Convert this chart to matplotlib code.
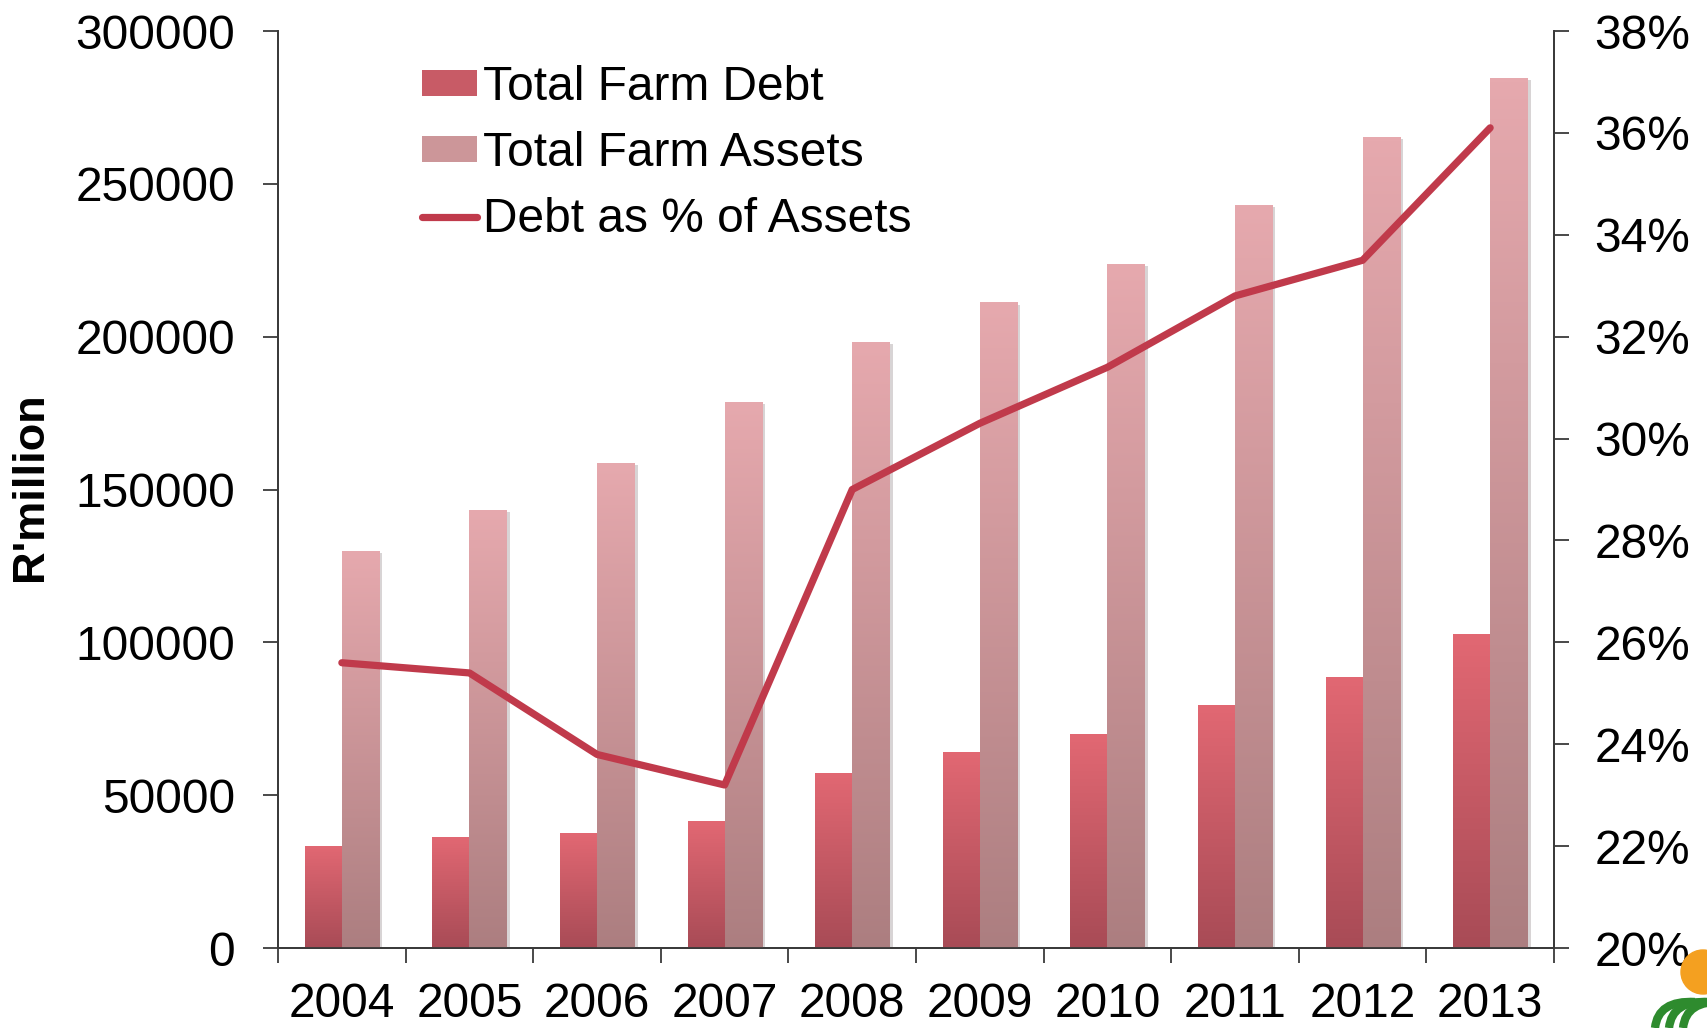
import matplotlib
matplotlib.use("Agg")
import matplotlib.pyplot as plt
import matplotlib.patheffects as pe
import numpy as np
from matplotlib.colors import LinearSegmentedColormap
from matplotlib.lines import Line2D
from matplotlib.patches import Patch, Circle, PathPatch
from matplotlib.path import Path
from matplotlib.ticker import PercentFormatter

# data (R million / share)
years = ["2004", "2005", "2006", "2007", "2008", "2009", "2010", "2011", "2012", "2013"]
farm_debt = [33500, 36400, 37500, 41400, 57400, 64200, 69900, 79600, 88800, 102700]
farm_assets = [129900, 143400, 158800, 178700, 198400, 211200, 223700, 243000, 265400, 284700]
debt_pct = [25.6, 25.4, 23.8, 23.2, 29.0, 30.3, 31.4, 32.8, 33.5, 36.1]

plt.rcParams['font.family'] = ['Liberation Sans', 'DejaVu Sans']
FS = 34.5
SPINE = '#3a3a3a'

debt_cmap = LinearSegmentedColormap.from_list('debt', ['#A84B56', '#E26873'])
asset_cmap = LinearSegmentedColormap.from_list('assets', ['#AC7E80', '#E6A9AE'])

fig = plt.figure(figsize=(17.08, 10.28), dpi=100)
ax = fig.add_axes([0.1628, 0.0778, 0.747, 0.892])
ax2 = ax.twinx()

x = np.arange(len(years))
w = 0.29


def gradient_bars(axis, xs, heights, cmap):
    bars = axis.bar(xs, heights, w, color=cmap(0.5), zorder=2,
                    path_effects=[pe.SimplePatchShadow(offset=(2.5, -1.5), alpha=0.2),
                                  pe.Normal()])
    grad = np.linspace(0, 1, 256).reshape(-1, 1)
    for b in bars:
        x0, y0 = b.get_x(), b.get_y()
        im = axis.imshow(grad, cmap=cmap, origin='lower', aspect='auto',
                         extent=[x0, x0 + b.get_width(), y0, y0 + b.get_height()],
                         zorder=3, interpolation='bilinear')
        im.set_clip_path(b)
    return bars


gradient_bars(ax, x - w / 2, farm_debt, debt_cmap)
gradient_bars(ax, x + w / 2, farm_assets, asset_cmap)

ax2.plot(x, np.array(debt_pct) / 100, color='#C03A4B', lw=5.2,
         solid_capstyle='round', solid_joinstyle='round', zorder=5)

ax.set_xlim(-0.5, len(years) - 0.5)
ax.set_ylim(0, 300000)
ax.set_yticks(np.arange(0, 300001, 50000))
ax2.set_ylim(0.20, 0.38)
ax2.set_yticks(np.arange(0.20, 0.3801, 0.02))
ax2.yaxis.set_major_formatter(PercentFormatter(1.0, decimals=0))

ax.set_xticks(x)
ax.set_xticklabels(years)
ax.set_xticks(np.arange(-0.5, len(years), 1), minor=True)
ax.tick_params(axis='x', which='major', length=0, labelsize=FS, pad=24.5)
ax.tick_params(axis='x', which='minor', direction='out', length=11, width=1.3, color=SPINE)
ax.tick_params(axis='y', direction='out', length=11, width=1.3, color=SPINE,
               labelsize=FS, pad=20)
ax2.tick_params(axis='y', direction='out', length=11, width=1.3, color=SPINE,
                labelsize=FS, pad=18)

for a in (ax, ax2):
    a.spines['top'].set_visible(False)
    for s in ('left', 'right', 'bottom'):
        a.spines[s].set_color(SPINE)
        a.spines[s].set_linewidth(1.3)

fig.text(31 / 1708, 0.527, "R'million", rotation=90, ha='center', va='center',
         fontsize=32.5, fontweight='bold')

handles = [Patch(facecolor=debt_cmap(0.55), edgecolor='none'),
           Patch(facecolor=asset_cmap(0.55), edgecolor='none'),
           Line2D([], [], color='#C03A4B', lw=5.2, solid_capstyle='round')]
labels = ['Total Farm Debt', 'Total Farm Assets', 'Debt as % of Assets']
ax2.legend(handles, labels, loc='upper left', bbox_to_anchor=(0.113, 0.963),
           frameon=False, fontsize=FS, handlelength=1.15, handleheight=0.45,
           handletextpad=0.12, labelspacing=0.44, borderpad=0, borderaxespad=0)

# small logo in the bottom-right corner
fig.add_artist(Circle((17.03, 0.56), 0.22, color='#F4A020',
                      transform=fig.dpi_scale_trans, zorder=10))
for dx in (0.0, 0.14, 0.28):
    verts = [(16.55 + dx, 0.0), (16.58 + dx, 0.28), (16.95 + dx, 0.26)]
    leaf = Path(verts, [Path.MOVETO, Path.CURVE3, Path.CURVE3])
    fig.add_artist(PathPatch(leaf, facecolor='none', edgecolor='#2E8B2E', lw=6,
                             transform=fig.dpi_scale_trans, zorder=10))

fig.savefig('out.png', dpi=100)
